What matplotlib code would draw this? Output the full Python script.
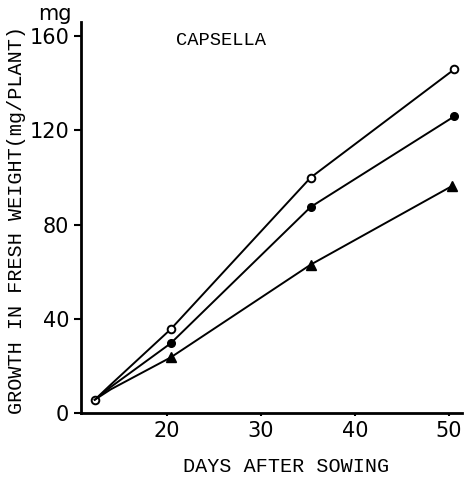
import matplotlib
matplotlib.use("Agg")
import matplotlib.pyplot as plt

# growth in fresh weight, mg per plant
days_open = [12.3, 14.0, 20.4, 35.3, 50.6]
weight_open = [5.6, 12, 35.6, 100, 146]

days_filled = [12.3, 14.0, 20.4, 35.3, 50.6]
weight_filled = [5.6, 11, 29.6, 87.5, 126]

days_tri = [12.3, 14.0, 20.4, 35.3, 50.4]
weight_tri = [5.6, 10, 23.6, 63, 96.5]

x_ticks = [20, 30, 40, 50]
y_ticks = [0, 40, 80, 120, 160]

mono = ["Liberation Mono", "DejaVu Sans Mono"]

fig = plt.figure(figsize=(4.66, 4.83), dpi=100)
ax = fig.add_axes([0.174, 0.145, 0.817, 0.809])

ax.plot(days_open, weight_open, color="black", lw=1.4,
        marker="o", ms=5.5, mfc="white", mec="black", mew=1.4, markevery=[0, 2, 3, 4])
ax.plot(days_filled, weight_filled, color="black", lw=1.4,
        marker="o", ms=5.5, mfc="black", mec="black", markevery=[2, 3, 4])
ax.plot(days_tri, weight_tri, color="black", lw=1.4,
        marker="^", ms=6.5, mfc="black", mec="black", markevery=[2, 3, 4])

ax.set_xlim(10.85, 51.4)
ax.set_ylim(0, 166)
ax.set_xticks(x_ticks)
ax.set_yticks(y_ticks)
ax.tick_params(axis="both", labelsize=15, width=1.5, length=5, direction="out")
ax.tick_params(axis="x", length=2, pad=4)

for side in ["top", "right"]:
    ax.spines[side].set_visible(False)
for side in ["left", "bottom"]:
    ax.spines[side].set_linewidth(2)

fig.text(0.614, 0.035, "DAYS AFTER SOWING", family=mono, fontsize=14.5,
         ha="center", va="center")
fig.text(0.036, 0.545, "GROWTH IN FRESH WEIGHT(mg/PLANT)", family=mono,
         fontsize=14.5, rotation=90, ha="center", va="center")
fig.text(0.475, 0.917, "CAPSELLA", family=mono, fontsize=13.5, ha="center", va="center")
fig.text(0.118, 0.972, "mg", fontsize=15, ha="center", va="center")

fig.savefig("out.png", dpi=100)
